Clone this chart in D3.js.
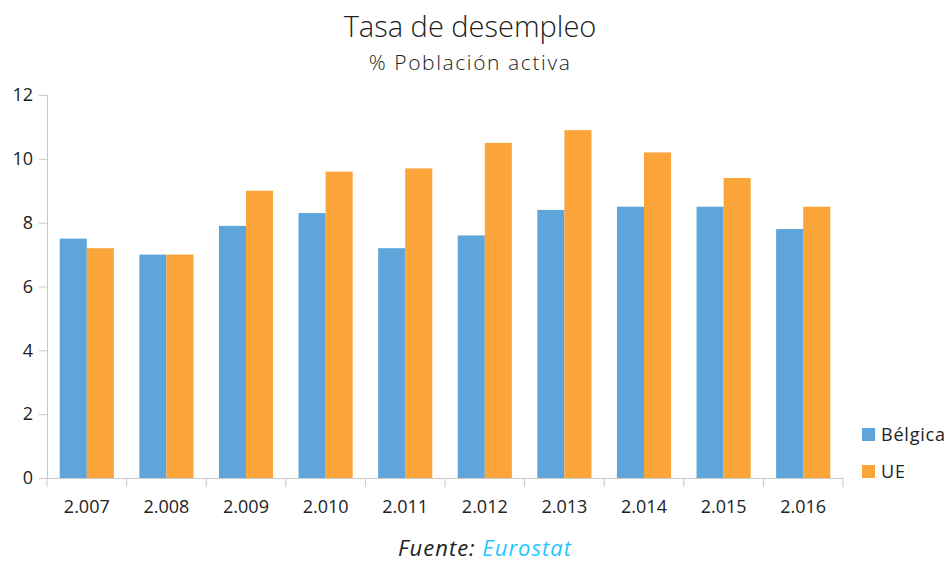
<!DOCTYPE html>
<html><head><meta charset="utf-8">
<script src="https://cdn.jsdelivr.net/npm/d3@7"></script>
<style>body{margin:0;background:#fff;}svg{display:block;font-family:"Open Sans",sans-serif;}</style>
</head><body>
<svg id="c" width="952" height="562"></svg>
<script>
const categories = ["2.007","2.008","2.009","2.010","2.011","2.012","2.013","2.014","2.015","2.016"];
const seriesNames = ["Bélgica","UE"];
const belgica = [7.5,7.0,7.9,8.3,7.2,7.6,8.4,8.5,8.5,7.8];
const ue = [7.2,7.0,9.0,9.6,9.7,10.5,10.9,10.2,9.4,8.5];
const yTicks = [0,2,4,6,8,10,12];
const colors = ["#5DA5DA","#FAA43A"];

const svg = d3.select("#c");
const m = {l:47, r:109, t:95, b:84};
const W = 952, H = 562;
const x = d3.scaleBand().domain(categories).range([m.l, W-m.r]).paddingInner(0.32).paddingOuter(0.16);
const xb = d3.scaleBand().domain(categories).range([m.l, W-m.r]);
const y = d3.scaleLinear().domain([0,12]).range([H-m.b, m.t]);
const xs = d3.scaleBand().domain(seriesNames).range([0, x.bandwidth()]);

const data = [belgica, ue];
seriesNames.forEach((s,i)=>{
  svg.append("g").selectAll("rect").data(categories).join("rect")
    .attr("x", d=>x(d)+xs(s)).attr("width", xs.bandwidth())
    .attr("y", (d,j)=>y(data[i][j])).attr("height",(d,j)=>y(0)-y(data[i][j]))
    .attr("fill", colors[i]);
});

// y axis
const ya = svg.append("g").attr("transform",`translate(${m.l},0)`)
  .call(d3.axisLeft(y).tickValues(yTicks).tickSize(8).tickSizeOuter(0).tickPadding(6));
ya.select(".domain").attr("stroke","#c8c8c8");
ya.selectAll(".tick line").attr("stroke","#c8c8c8");
ya.selectAll("text").attr("font-size",18).attr("fill","#222").attr("font-family","Open Sans");

// x axis
const xa = svg.append("g").attr("transform",`translate(0,${y(0)})`)
  .call(d3.axisBottom(xb).tickSize(0).tickPadding(22));
xa.select(".domain").attr("stroke","#c8c8c8");
xa.selectAll("text").attr("font-size",18).attr("fill","#222").attr("font-family","Open Sans");
const bounds = categories.map(c=>xb(c)).concat([xb(categories[categories.length-1])+xb.bandwidth()]);
xa.selectAll("line.b").data(bounds).join("line").attr("class","b")
  .attr("x1",d=>d).attr("x2",d=>d).attr("y1",0).attr("y2",9).attr("stroke","#c8c8c8");

// legend
const lg = svg.append("g").attr("transform","translate(862,428)");
seriesNames.forEach((s,i)=>{
  lg.append("rect").attr("x",0).attr("y",i*37).attr("width",13).attr("height",13).attr("fill",colors[i]);
  lg.append("text").attr("x",19).attr("y",i*37+13).attr("font-size",18).attr("letter-spacing",0.8).attr("fill","#222").text(s);
});

// titles
svg.append("text").attr("x",470).attr("y",37).attr("text-anchor","middle").attr("font-size",29).attr("font-weight",300).attr("fill","#222").text("Tasa de desempleo");
svg.append("text").attr("x",470).attr("y",70).attr("text-anchor","middle").attr("font-size",21).attr("letter-spacing",1.6).attr("font-weight",300).attr("fill","#222").text("% Población activa");
const f = svg.append("text").attr("x",485).attr("y",556).attr("text-anchor","middle").attr("font-size",22).attr("letter-spacing",1).attr("font-style","italic");
f.append("tspan").attr("fill","#222").text("Fuente: ");
f.append("tspan").attr("fill","#1FC8FF").text("Eurostat");
</script>
</body></html>
